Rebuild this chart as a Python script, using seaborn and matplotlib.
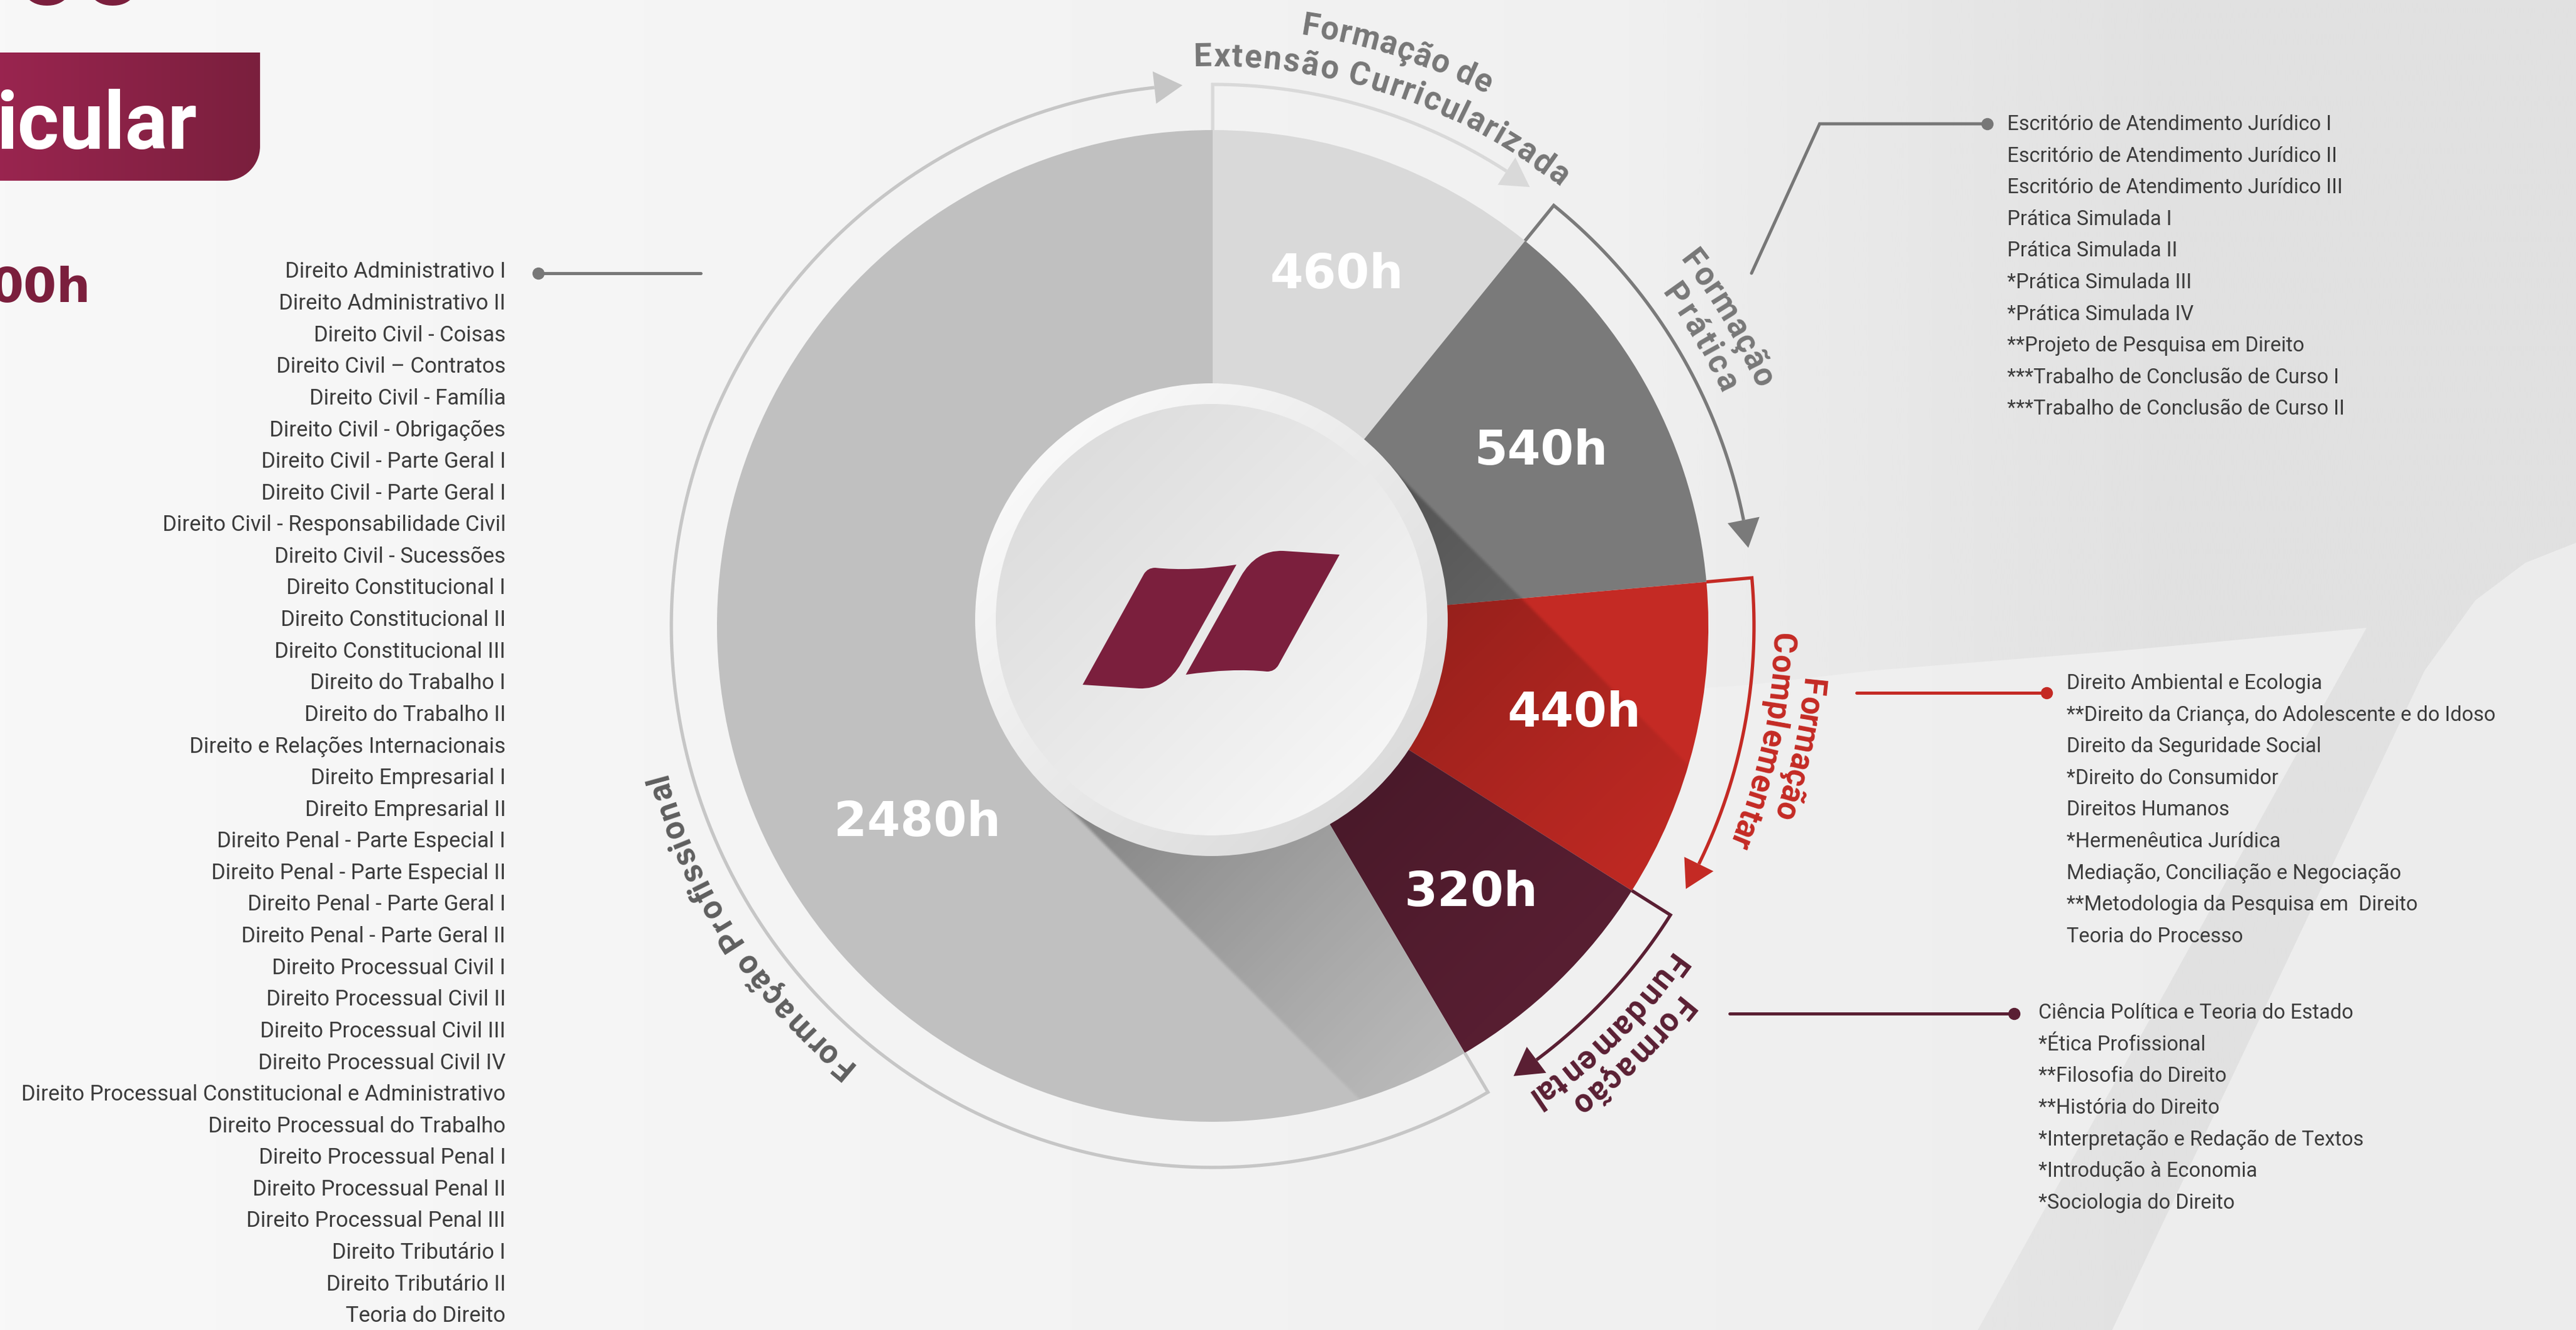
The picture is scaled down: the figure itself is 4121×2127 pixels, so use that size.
import numpy as np
import matplotlib
matplotlib.use("Agg")
import matplotlib.pyplot as plt
import seaborn as sns
from matplotlib.patches import Circle, PathPatch, Polygon
from matplotlib.path import Path
from matplotlib.font_manager import FontProperties
from matplotlib.colors import to_rgba

# ---------------- data ----------------
categories = ["Formação de Extensão Curricularizada", "Formação Prática",
              "Formação Complementar", "Formação Fundamental", "Formação Profissional"]
hours = [460, 540, 440, 320, 2480]
hour_labels = ["460h", "540h", "440h", "320h", "2480h"]
wedge_colors = ["#d9d9d9", "#7a7a7a", "#c42a24", "#5a1f33", "#c0c0c0"]
arc_colors = ["#d9d9d9", "#7a7a7a", "#c42a24", "#5a1f33", "#c6c6c6"]
label_colors = ["#777777", "#787878", "#c42a24", "#5a1f33", "#5f5f5f"]

profissional_list = [
    "Direito Administrativo I", "Direito Administrativo II", "Direito Civil - Coisas",
    "Direito Civil – Contratos", "Direito Civil - Família", "Direito Civil - Obrigações",
    "Direito Civil - Parte Geral I", "Direito Civil - Parte Geral I",
    "Direito Civil - Responsabilidade Civil", "Direito Civil - Sucessões",
    "Direito Constitucional I", "Direito Constitucional II", "Direito Constitucional III",
    "Direito do Trabalho I", "Direito do Trabalho II", "Direito e Relações Internacionais",
    "Direito Empresarial I", "Direito Empresarial II", "Direito Penal - Parte Especial I",
    "Direito Penal - Parte Especial II", "Direito Penal - Parte Geral I",
    "Direito Penal - Parte Geral II", "Direito Processual Civil I", "Direito Processual Civil II",
    "Direito Processual Civil III", "Direito Processual Civil IV",
    "Direito Processual Constitucional e Administrativo", "Direito Processual do Trabalho",
    "Direito Processual Penal I", "Direito Processual Penal II", "Direito Processual Penal III",
    "Direito Tributário I", "Direito Tributário II", "Teoria do Direito"]
pratica_list = [
    "Escritório de Atendimento Jurídico I", "Escritório de Atendimento Jurídico II",
    "Escritório de Atendimento Jurídico III", "Prática Simulada I", "Prática Simulada II",
    "*Prática Simulada III", "*Prática Simulada IV", "**Projeto de Pesquisa em Direito",
    "***Trabalho de Conclusão de Curso I", "***Trabalho de Conclusão de Curso II"]
complementar_list = [
    "Direito Ambiental e Ecologia", "**Direito da Criança, do Adolescente e do Idoso",
    "Direito da Seguridade Social", "*Direito do Consumidor", "Direitos Humanos",
    "*Hermenêutica Jurídica", "Mediação, Conciliação e Negociação",
    "**Metodologia da Pesquisa em  Direito", "Teoria do Processo"]
fundamental_list = [
    "Ciência Política e Teoria do Estado", "*Ética Profissional", "**Filosofia do Direito",
    "**História do Direito", "*Interpretação e Redação de Textos", "*Introdução à Economia",
    "*Sociologia do Direito"]

# curved label lines: (text, start angle, end angle, radius, category index)
curved_lines = [
    ("Formação de", 80.7, 63.6, 972, 0),
    ("Extensão Curricularizada", 91.0, 52.5, 911, 0),
    ("Formação", 37.3, 24.4, 965, 1),
    ("Prática", 35.5, 25.4, 910, 1),
    ("Formação", -5.9, -17.9, 963, 2),
    ("Complementar", -1.8, -22.4, 911, 2),
    ("Formação", -39.2, -52.2, 966, 3),
    ("Fundamental", -36.3, -55.8, 915, 3),
    ("Formação Profissional", -130.1, -164.7, 921, 4),
]

# ---------------- setup ----------------
W, H = 4121, 2127
sns.set_theme(style="white")
plt.rcParams["font.family"] = ["Roboto", "DejaVu Sans"]

fig = plt.figure(figsize=(W / 100, H / 100), dpi=100)
ax = fig.add_axes([0, 0, 1, 1])


def Y(y):
    return H - y


def grad_image(extent, c0, c1, angle_deg, clip=None, zorder=1, n=256):
    xs = np.linspace(0, 1, n)
    X, Yg = np.meshgrid(xs, xs)
    d = np.array([np.cos(np.radians(angle_deg)), np.sin(np.radians(angle_deg))])
    t = (X - 0.5) * d[0] + (Yg - 0.5) * d[1]
    t = (t - t.min()) / (t.max() - t.min())
    a = np.array(to_rgba(c0)); b = np.array(to_rgba(c1))
    img = a[None, None, :] * (1 - t[..., None]) + b[None, None, :] * t[..., None]
    im = ax.imshow(img, extent=extent, origin="lower", zorder=zorder, aspect="auto",
                   interpolation="bilinear")
    if clip is not None:
        im.set_clip_path(clip)
    return im


# ---------------- background ----------------
bx = np.linspace(0, 1, 512)
base = (248 - 12 * bx) / 255.0
bg = np.ones((2, 512, 3)) * base[None, :, None]
ax.imshow(bg, extent=(0, W, 0, H), origin="lower", aspect="auto", zorder=0)

dark_pts = [(2500, 0), (2500, 1118), (2800, 1095), (3000, 1072), (3400, 1040), (3786, 1004),
            (3164, 2127), (3379, 2127), (3879, 1072), (3960, 960), (4040, 900), (4121, 868),
            (4121, 0)]
dark_poly = Polygon([(x, Y(y)) for x, y in dark_pts], closed=True, transform=ax.transData)
ax_dark = np.zeros((1, 256, 4))
ax_dark[..., :3] = 225 / 255.0
xx = np.linspace(2500, W, 256)
ax_dark[0, :, 3] = np.clip((xx - 2600) / 900.0, 0, 1)
imd = ax.imshow(ax_dark, extent=(2500, W, 0, H), origin="lower", aspect="auto", zorder=0.5,
                interpolation="bilinear")
imd.set_clip_path(dark_poly)

# ---------------- pie ----------------
cx, cy = 1940, Y(1001)
R = 793
wedges, _ = ax.pie(hours, colors=wedge_colors, startangle=90, counterclock=False,
                   center=(cx, cy), radius=R,
                   wedgeprops=dict(linewidth=0, zorder=2, antialiased=True))

# long shadow of the central disc
dcx, dcy = 1938, Y(991)
rd = 378
n = 500
gx = np.linspace(cx - R, cx + R, n)
gy = np.linspace(cy - R, cy + R, n)
GX, GY = np.meshgrid(gx, gy)
ang = np.radians(-45)
dv = np.array([np.cos(ang), np.sin(ang)])
nv = np.array([-dv[1], dv[0]])
along = (GX - dcx) * dv[0] + (GY - dcy) * dv[1]
perp = (GX - dcx) * nv[0] + (GY - dcy) * nv[1]
edge = np.clip((rd - np.abs(perp)) / 5.0, 0, 1)
alpha = 0.34 * np.clip(1 - along / 900.0, 0, 1) ** 1.2 * edge * (along > 0)
sh = np.zeros((n, n, 4))
sh[..., 3] = alpha
clip_pie = Circle((cx, cy), R, transform=ax.transData)
ims = ax.imshow(sh, extent=(cx - R, cx + R, cy - R, cy + R), origin="lower", aspect="auto",
                zorder=3, interpolation="bilinear")
ims.set_clip_path(clip_pie)

# central disc
ring_clip = Circle((dcx, dcy), rd, transform=ax.transData)
grad_image((dcx - rd, dcx + rd, dcy - rd, dcy + rd), "#ffffff", "#d5d5d5", -45,
           clip=ring_clip, zorder=4)
rin = 345
in_clip = Circle((dcx, dcy), rin, transform=ax.transData)
grad_image((dcx - rin, dcx + rin, dcy - rin, dcy + rin), "#d8d8d8", "#fbfbfb", -45,
           clip=in_clip, zorder=4.1)

# logo (two leaves, point-symmetric)
leaf = [((1732, 1095), Path.MOVETO), ((1830, 918), Path.LINETO),
        ((1836, 908), Path.CURVE3), ((1848, 908), Path.CURVE3),
        ((1905, 914), Path.CURVE3), ((1978, 903), Path.CURVE3),
        ((1890, 1060), Path.LINETO),
        ((1874, 1088), Path.CURVE4), ((1852, 1102), Path.CURVE4), ((1822, 1101), Path.CURVE4),
        ((1732, 1095), Path.LINETO), ((1732, 1095), Path.CLOSEPOLY)]
mcx, mcy = 1937.5, 991
for flip in (False, True):
    verts = []
    codes = []
    for (x, y), c in leaf:
        if flip:
            x, y = 2 * mcx - x, 2 * mcy - y
        verts.append((x, Y(y)))
        codes.append(c)
    ax.add_patch(PathPatch(Path(verts, codes), facecolor="#7b1f3d", edgecolor="none", zorder=5))

# hour labels
num_fp = FontProperties(family="DejaVu Sans", weight="bold", size=55)
for i, w in enumerate(wedges):
    m = np.radians(0.5 * (w.theta1 + w.theta2))
    x, y = cx + 0.75 * R * np.cos(m), cy + 0.75 * R * np.sin(m)
    if hour_labels[i] == "2480h":
        x, y = 1467, Y(1316)
    ax.text(x, y, hour_labels[i], ha="center", va="center", color="white",
            fontproperties=num_fp, zorder=7)

# ---------------- arcs with arrows ----------------
R_arc = 866
gap = 3.2
alen, ahw = 45, 26
for i, w in enumerate(wedges):
    start = w.theta2
    tip = w.theta1 + gap
    base_a = tip + np.degrees(alen / R_arc)
    th = np.radians(np.linspace(start, base_a, 400))
    xs = [cx + R * np.cos(th[0])] + list(cx + R_arc * np.cos(th))
    ys = [cy + R * np.sin(th[0])] + list(cy + R_arc * np.sin(th))
    ax.plot(xs, ys, color=arc_colors[i], lw=3.8, solid_joinstyle="miter",
            solid_capstyle="butt", zorder=6)
    t = np.radians(tip); b = np.radians(base_a)
    tipp = (cx + R_arc * np.cos(t), cy + R_arc * np.sin(t))
    u = np.array([np.cos(b), np.sin(b)])
    bc = np.array([cx, cy]) + R_arc * u
    tri = [tipp, tuple(bc + ahw * u), tuple(bc - ahw * u)]
    ax.add_patch(Polygon(tri, closed=True, facecolor=arc_colors[i], edgecolor="none", zorder=6))

# ---------------- curved labels ----------------
renderer = fig.canvas.get_renderer()
cur_fp = FontProperties(family="Roboto", weight="bold", size=37)


def char_w(ch, fp):
    w1, _, _ = renderer.get_text_width_height_descent("x" + ch + "x", fp, ismath=False)
    w0, _, _ = renderer.get_text_width_height_descent("xx", fp, ismath=False)
    return w1 - w0


for text, a0, a1, r, ci in curved_lines:
    ws = np.array([char_w(c, cur_fp) for c in text])
    cum = np.cumsum(ws) - ws / 2
    s0, s1 = cum[0], cum[-1]
    rb = r - 16
    for c, s in zip(text, cum):
        if c == " ":
            continue
        a = a0 + (a1 - a0) * (s - s0) / (s1 - s0)
        tr = np.radians(a)
        ax.text(cx + rb * np.cos(tr), cy + rb * np.sin(tr), c, rotation=a - 90,
                rotation_mode="anchor", ha="center", va="baseline",
                fontproperties=cur_fp, color=label_colors[ci], zorder=8)

# ---------------- connectors ----------------
def connector(pts, color):
    xs = [p[0] for p in pts]
    ys = [Y(p[1]) for p in pts]
    ax.plot(xs, ys, color=color, lw=3.6, solid_joinstyle="miter", zorder=6)


connector([(861, 437), (1121, 437)], "#777777")
ax.plot([861], [Y(437)], "o", ms=13, color="#777777", zorder=6)
connector([(2802, 437), (2911, 198), (3179, 198)], "#777777")
ax.plot([3179], [Y(198)], "o", ms=13, color="#777777", zorder=6)
connector([(2970, 1108), (3274, 1108)], "#c42a24")
ax.plot([3274], [Y(1108)], "o", ms=13, color="#c42a24", zorder=6)
connector([(2767, 1621), (3222, 1621)], "#5a1f33")
ax.plot([3222], [Y(1621)], "o", ms=13, color="#5a1f33", zorder=6)

# ---------------- lists ----------------
left_fp = FontProperties(family="Roboto", size=25)
list_fp = FontProperties(family="Roboto", size=23.5)
sp = 50.6
txtc = "#3c3c3c"
for k, s in enumerate(profissional_list):
    ax.text(809, Y(435 + k * sp), s, ha="right", va="center", fontproperties=left_fp,
            color=txtc, zorder=8)
for k, s in enumerate(pratica_list):
    ax.text(3211, Y(199 + k * sp), s, ha="left", va="center", fontproperties=list_fp,
            color=txtc, zorder=8)
for k, s in enumerate(complementar_list):
    ax.text(3306, Y(1093 + k * sp), s, ha="left", va="center", fontproperties=list_fp,
            color=txtc, zorder=8)
for k, s in enumerate(fundamental_list):
    ax.text(3261, Y(1620 + k * sp), s, ha="left", va="center", fontproperties=list_fp,
            color=txtc, zorder=8)

# ---------------- title pieces (cut at the edge) ----------------
k4 = 0.5523 * 55
box_verts = [(-20, 84), (416, 84), (416, 234), (416, 234 + k4), (361 + k4, 289), (361, 289),
             (-20, 289), (-20, 84)]
box_codes = [Path.MOVETO, Path.LINETO, Path.LINETO, Path.CURVE4, Path.CURVE4, Path.CURVE4,
             Path.LINETO, Path.CLOSEPOLY]
box_path = Path([(x, Y(y)) for x, y in box_verts], box_codes)
box_patch = PathPatch(box_path, transform=ax.transData)
grad_image((-20, 420, Y(290), Y(83)), "#9b2550", "#7a1f3d", 0, clip=box_patch, zorder=5)
ax.text(-6, Y(238), "icular", ha="left", va="baseline", color="white",
        fontproperties=FontProperties(family="Roboto", weight="bold", size=92), zorder=8)
ax.text(-16, Y(483), "00h", ha="left", va="baseline", color="#7b1f3d",
        fontproperties=num_fp, zorder=8)
ax.text(22, Y(7), "00", ha="left", va="baseline", color="#7b1f3d",
        fontproperties=FontProperties(family="DejaVu Sans", weight="bold", size=110), zorder=8)

ax.set_xlim(0, W)
ax.set_ylim(0, H)
ax.set_aspect("auto")
ax.axis("off")
fig.savefig("out.png", dpi=100)
